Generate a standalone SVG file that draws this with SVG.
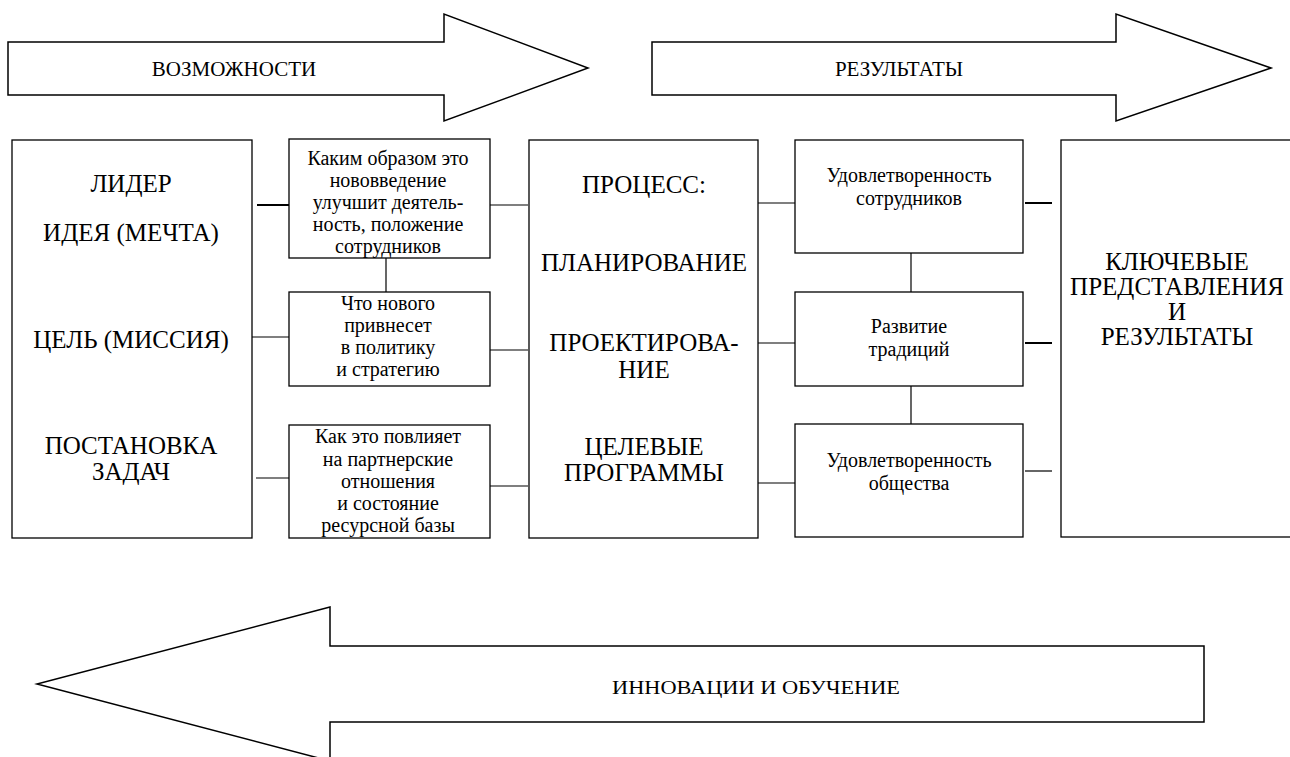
<svg xmlns="http://www.w3.org/2000/svg" width="1290" height="757" viewBox="0 0 1290 757" font-family="Liberation Serif, serif">
<style>
.box{fill:#fff;stroke:#000;stroke-width:1.3}
.arr{fill:#fff;stroke:#000;stroke-width:1.5}
text{font-family:Liberation Serif, serif;text-anchor:middle;fill:#000}
.big{font-size:25px}
.sm{font-size:20px}
.lab{font-size:21px}
.c{stroke:#000;stroke-width:1.2;fill:none}
.ct{stroke:#000;stroke-width:2;fill:none}
</style>
<rect width="1290" height="757" fill="#fff"/>
<g id="arrow-vozmozhnosti">
<polygon class="arr" points="8,42 444,42 444,14 588,68 444,121 444,95 8,95"/>
<text class="lab" x="234" y="76">ВОЗМОЖНОСТИ</text>
</g>
<g id="arrow-rezultaty">
<polygon class="arr" points="652,42 1116,42 1116,14 1271,68 1116,121 1116,95 652,95"/>
<text class="lab" x="899" y="76">РЕЗУЛЬТАТЫ</text>
</g>
<g id="arrow-innovacii">
<polygon class="arr" points="1204,646 330,646 330,607 37,684 330,761 330,722 1204,722"/>
<text x="756" y="694" font-size="18" textLength="288" lengthAdjust="spacingAndGlyphs">ИННОВАЦИИ И ОБУЧЕНИЕ</text>
</g>
<g id="connectors">
<line class="ct" x1="257" y1="205" x2="289" y2="205"/>
<line class="c" x1="490" y1="205" x2="528" y2="205"/>
<line class="c" x1="386" y1="258" x2="386" y2="292"/>
<line class="c" x1="252" y1="337" x2="289" y2="337"/>
<line class="c" x1="490" y1="350" x2="528" y2="350"/>
<line class="c" x1="256" y1="478" x2="289" y2="478"/>
<line class="c" x1="490" y1="486" x2="528" y2="486"/>
<line class="c" x1="758" y1="203" x2="795" y2="203"/>
<line class="c" x1="758" y1="343" x2="795" y2="343"/>
<line class="c" x1="758" y1="483" x2="795" y2="483"/>
<line class="c" x1="911" y1="253" x2="911" y2="292"/>
<line class="c" x1="911" y1="386" x2="911" y2="424"/>
<line class="ct" x1="1025" y1="203" x2="1052" y2="203"/>
<line class="ct" x1="1025" y1="343" x2="1052" y2="343"/>
<line class="c" x1="1025" y1="471" x2="1052" y2="471"/>
</g>
<g id="node-left">
<rect class="box" x="12" y="140" width="240" height="398"/>
<text class="big" x="131" y="192">ЛИДЕР</text>
<text class="big" x="131" y="241">ИДЕЯ (МЕЧТА)</text>
<text class="big" x="131" y="348">ЦЕЛЬ (МИССИЯ)</text>
<text class="big" x="131" y="454">ПОСТАНОВКА</text>
<text class="big" x="131" y="480">ЗАДАЧ</text>
</g>
<g id="node-a">
<rect class="box" x="289" y="139" width="201" height="119"/>
<text class="sm" x="388" y="165">Каким образом это</text>
<text class="sm" x="388" y="187">нововведение</text>
<text class="sm" x="388" y="209">улучшит деятель-</text>
<text class="sm" x="388" y="231">ность, положение</text>
<text class="sm" x="388" y="253">сотрудников</text>
</g>
<g id="node-b">
<rect class="box" x="289" y="292" width="201" height="94"/>
<text class="sm" x="388" y="310">Что  нового</text>
<text class="sm" x="388" y="332">привнесет</text>
<text class="sm" x="388" y="354">в политику</text>
<text class="sm" x="388" y="376">и стратегию</text>
</g>
<g id="node-c">
<rect class="box" x="289" y="425" width="201" height="113"/>
<text class="sm" x="388" y="443">Как это повлияет</text>
<text class="sm" x="388" y="466">на партнерские</text>
<text class="sm" x="388" y="488">отношения</text>
<text class="sm" x="388" y="510">и состояние</text>
<text class="sm" x="388" y="532">ресурсной базы</text>
</g>
<g id="node-process">
<rect class="box" x="529" y="140" width="229" height="398"/>
<text class="big" x="644" y="193">ПРОЦЕСС:</text>
<text class="big" x="644" y="271">ПЛАНИРОВАНИЕ</text>
<text class="big" x="644" y="351">ПРОЕКТИРОВА-</text>
<text class="big" x="644" y="378">НИЕ</text>
<text class="big" x="644" y="455">ЦЕЛЕВЫЕ</text>
<text class="big" x="644" y="481">ПРОГРАММЫ</text>
</g>
<g id="node-r1">
<rect class="box" x="795" y="140" width="228" height="113"/>
<text class="sm" x="909" y="182">Удовлетворенность</text>
<text class="sm" x="909" y="205">сотрудников</text>
</g>
<g id="node-r2">
<rect class="box" x="795" y="292" width="228" height="94"/>
<text class="sm" x="909" y="333">Развитие</text>
<text class="sm" x="909" y="356">традиций</text>
</g>
<g id="node-r3">
<rect class="box" x="795" y="424" width="228" height="113"/>
<text class="sm" x="909" y="467">Удовлетворенность</text>
<text class="sm" x="909" y="490">общества</text>
</g>
<g id="node-key">
<rect class="box" x="1061" y="140" width="240" height="397"/>
<text class="big" x="1177" y="270">КЛЮЧЕВЫЕ</text>
<text class="big" x="1177" y="295">ПРЕДСТАВЛЕНИЯ</text>
<text class="big" x="1177" y="320">И</text>
<text class="big" x="1177" y="345">РЕЗУЛЬТАТЫ</text>
</g>
</svg>
